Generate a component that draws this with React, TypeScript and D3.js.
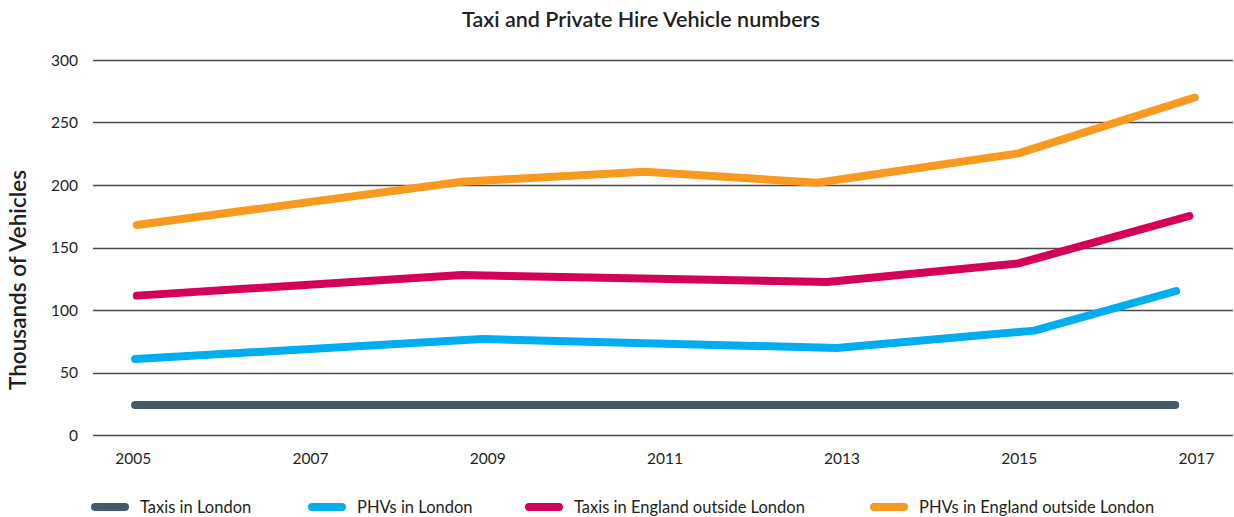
import React, { useEffect, useRef } from 'react';
import * as d3 from 'd3';

const yearTicks = [2005, 2007, 2009, 2011, 2013, 2015, 2017];
const valueTicks = [0, 50, 100, 150, 200, 250, 300];

const seriesNames = [
  'Taxis in London',
  'PHVs in London',
  'Taxis in England outside London',
  'PHVs in England outside London',
];
const seriesColors = ['#425a6c', '#00adee', '#d50058', '#f79a1f'];

// the vertices in the source chart don't sit exactly on the years, so each series keeps its own x
const taxisLondonYears = [2005.02, 2016.76];
const taxisLondon = [24, 24];

const phvLondonYears = [2005.02, 2008.94, 2012.94, 2015.17, 2016.77];
const phvLondon = [60.8, 76.8, 69.6, 83.5, 115.2];

const taxisEnglandYears = [2005.04, 2008.71, 2012.83, 2014.99, 2016.92];
const taxisEngland = [111.5, 128, 122.4, 137.3, 175.2];

const phvEnglandYears = [2005.04, 2008.71, 2010.77, 2012.72, 2014.99, 2016.98];
const phvEngland = [168, 202.6, 210.6, 201.8, 225.3, 270];

const WIDTH = 1234;
const HEIGHT = 517;

const LineChart: React.FC = () => {
  const svgRef = useRef<SVGSVGElement>(null);

  useEffect(() => {
    if (!svgRef.current) return;
    const svg = d3.select(svgRef.current);
    svg.selectAll('*').remove();

    const font = 'Lato, "Open Sans", sans-serif';
    const x = d3.scaleLinear().domain([2005, 2017]).range([133.3, 1196.5]);
    const y = d3.scaleLinear().domain([0, 300]).range([435, 60]);

    svg.append('text')
      .attr('x', 641)
      .attr('y', 27)
      .attr('text-anchor', 'middle')
      .attr('font-family', font)
      .attr('font-size', 21.5)
      .attr('font-weight', 600)
      .attr('fill', '#231f20')
      .text('Taxi and Private Hire Vehicle numbers');

    // gridlines
    const grid = svg.append('g');
    grid.selectAll('line')
      .data(valueTicks)
      .enter()
      .append('line')
      .attr('x1', 93)
      .attr('x2', 1233)
      .attr('y1', d => Math.round(y(d)) + 0.5)
      .attr('y2', d => Math.round(y(d)) + 0.5)
      .attr('stroke', '#4a4a4a')
      .attr('stroke-width', 1.3);

    svg.append('g')
      .selectAll('text')
      .data(valueTicks)
      .enter()
      .append('text')
      .attr('x', 78)
      .attr('y', d => y(d) + 5.5)
      .attr('text-anchor', 'end')
      .attr('font-family', font)
      .attr('font-size', 15.5)
      .attr('fill', '#231f20')
      .text(d => d);

    svg.append('g')
      .selectAll('text')
      .data(yearTicks)
      .enter()
      .append('text')
      .attr('x', d => x(d))
      .attr('y', 463.5)
      .attr('text-anchor', 'middle')
      .attr('font-family', font)
      .attr('font-size', 15.5)
      .attr('fill', '#231f20')
      .text(d => d);

    svg.append('text')
      .attr('transform', 'translate(26,280) rotate(-90)')
      .attr('text-anchor', 'middle')
      .attr('font-family', font)
      .attr('font-size', 22.5)
      .attr('font-weight', 600)
      .attr('fill', '#231f20')
      .text('Thousands of Vehicles');

    const allSeries = [
      { years: taxisLondonYears, values: taxisLondon },
      { years: phvLondonYears, values: phvLondon },
      { years: taxisEnglandYears, values: taxisEngland },
      { years: phvEnglandYears, values: phvEngland },
    ];

    const line = d3.line<[number, number]>()
      .x(d => x(d[0]))
      .y(d => y(d[1]));

    svg.append('g')
      .selectAll('path')
      .data(allSeries)
      .enter()
      .append('path')
      .attr('d', s => line(s.years.map((yr, i) => [yr, s.values[i]] as [number, number])))
      .attr('fill', 'none')
      .attr('stroke', (_, i) => seriesColors[i])
      .attr('stroke-width', 8)
      .attr('stroke-linecap', 'round')
      .attr('stroke-linejoin', 'round');

    // legend
    const legendX = [95, 312, 529, 874];
    const legend = svg.append('g');
    seriesNames.forEach((name, i) => {
      legend.append('line')
        .attr('x1', legendX[i])
        .attr('x2', legendX[i] + 30)
        .attr('y1', 507)
        .attr('y2', 507)
        .attr('stroke', seriesColors[i])
        .attr('stroke-width', 8)
        .attr('stroke-linecap', 'round');
      legend.append('text')
        .attr('x', legendX[i] + 45)
        .attr('y', 512.5)
        .attr('font-family', font)
        .attr('font-size', 16.5)
        .attr('fill', '#231f20')
        .text(name);
    });
  }, []);

  return (
    <svg
      ref={svgRef}
      width={WIDTH}
      height={HEIGHT}
      style={{ position: 'absolute', left: 0, top: 0, background: '#fff' }}
    />
  );
};

export default function App() {
  return <LineChart />;
}
